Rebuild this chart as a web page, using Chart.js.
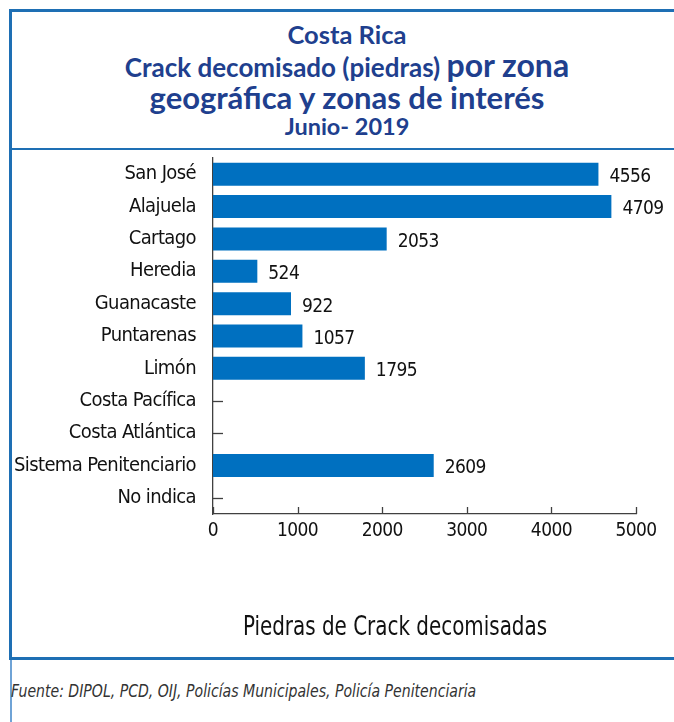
<!DOCTYPE html>
<html>
<head>
<meta charset="utf-8">
<script src="https://cdn.jsdelivr.net/npm/chart.js@4.4.1/dist/chart.umd.min.js"></script>
<style>
  html, body { margin: 0; padding: 0; background: #fff; }
  body { width: 674px; height: 722px; position: relative; overflow: hidden; }
  .line { position: absolute; background: #1e6fb4; }
  #title { position: absolute; left: 10px; top: 18px; width: 674px; text-align: center;
    font-family: Lato, "Open Sans", sans-serif; font-weight: bold; color: #203f8e; }
  #wrap { position: absolute; left: 0; top: 150px; width: 674px; height: 508px; }
  #xtitle { position: absolute; left: 195px; width: 400px; top: 610px; text-align: center;
    font-family: "DejaVu Sans Condensed", sans-serif; font-size: 27px; color: #111;
    transform: scaleX(0.82); }
  #src { position: absolute; left: 11px; top: 681px; white-space: nowrap;
    font-family: "DejaVu Sans Condensed", sans-serif; font-style: italic; font-size: 17px; color: #333;
    transform: scaleX(0.92); transform-origin: left center; }
</style>
</head>
<body>
<div class="line" style="left:9px;top:9px;width:665px;height:3px;"></div>
<div class="line" style="left:9px;top:9px;width:3px;height:650px;"></div>
<div class="line" style="left:9px;top:148px;width:665px;height:2px;"></div>
<div class="line" style="left:9px;top:657px;width:665px;height:3px;"></div>
<div class="line" style="left:10px;top:660px;width:2px;height:62px;background:#6fa3d6;"></div>

<div id="title">
  <div style="font-size:25.5px;line-height:32px;">Costa Rica</div>
  <div style="font-size:26px;line-height:30px;">Crack decomisado (piedras) <span style="font-size:32px;">por zona</span></div>
  <div style="font-size:31px;line-height:31px;">geográfica y zonas de interés</div>
  <div style="font-size:23.5px;line-height:26px;">Junio- 2019</div>
</div>

<div id="wrap"><canvas id="chart" width="674" height="508"></canvas></div>
<div id="xtitle">Piedras de Crack decomisadas</div>
<div id="src">Fuente: DIPOL, PCD, OIJ, Policías Municipales, Policía Penitenciaria</div>

<script>
const zonas = [
  "San José", "Alajuela", "Cartago", "Heredia", "Guanacaste", "Puntarenas",
  "Limón", "Costa Pacífica", "Costa Atlántica", "Sistema Penitenciario", "No indica"
];
const piedras = [4556, 4709, 2053, 524, 922, 1057, 1795, null, null, 2609, null];
const xTicks = [0, 1000, 2000, 3000, 4000, 5000];

const cond = "'DejaVu Sans Condensed', sans-serif";
const axisColor = "#404040";

// marcas de los ejes hacia adentro + etiquetas de valor
const extras = {
  id: "extras",
  beforeUpdate(chart) {
    chart.ctx.letterSpacing = "-0.6px";
  },
  beforeDraw(chart) {
    chart.ctx.letterSpacing = "-0.6px";
  },
  beforeDatasetsDraw(chart) {
    const { ctx, chartArea, scales } = chart;
    ctx.save();
    ctx.strokeStyle = axisColor;
    ctx.lineWidth = 1.3;
    zonas.forEach((z, i) => {
      const y = Math.round(scales.y.getPixelForValue(i)) + 0.5;
      ctx.beginPath();
      ctx.moveTo(chartArea.left, y);
      ctx.lineTo(chartArea.left + 10, y);
      ctx.stroke();
    });
    xTicks.forEach((v) => {
      const x = Math.round(scales.x.getPixelForValue(v)) + 0.5;
      ctx.beginPath();
      ctx.moveTo(x, chartArea.bottom);
      ctx.lineTo(x, chartArea.bottom - 7);
      ctx.stroke();
    });
    ctx.restore();
  },
  afterDatasetsDraw(chart) {
    const { ctx } = chart;
    const meta = chart.getDatasetMeta(0);
    ctx.save();
    ctx.font = "19px " + cond;
    ctx.fillStyle = "#111";
    ctx.textAlign = "left";
    ctx.textBaseline = "middle";
    meta.data.forEach((bar, i) => {
      if (piedras[i] == null) return;
      ctx.fillText(String(piedras[i]), bar.x + 11, bar.y + 3);
    });
    ctx.restore();
  }
};

new Chart(document.getElementById("chart"), {
  type: "bar",
  data: {
    labels: zonas,
    datasets: [{
      data: piedras,
      backgroundColor: "#0070c0",
      borderWidth: 0,
      barPercentage: 0.71,
      categoryPercentage: 1
    }]
  },
  options: {
    indexAxis: "y",
    responsive: false,
    animation: false,
    layout: { padding: { top: 8, right: 38, left: 0, bottom: 0 } },
    plugins: { legend: { display: false }, tooltip: { enabled: false } },
    scales: {
      x: {
        min: 0,
        max: 5000,
        afterBuildTicks: (s) => { s.ticks = xTicks.map((v) => ({ value: v })); },
        afterFit: (s) => { s.height = 144; s.paddingLeft = 0; s.paddingRight = 0; },
        grid: { display: false, drawTicks: false },
        border: { display: true, color: axisColor, width: 1.3 },
        ticks: {
          color: "#111", padding: 6, font: { family: cond, size: 19 },
          callback: (v) => String(v)
        }
      },
      y: {
        afterFit: (s) => { s.width = 213; s.paddingTop = 0; s.paddingBottom = 0; },
        grid: { display: false, drawTicks: false },
        border: { display: true, color: axisColor, width: 1.3 },
        ticks: { color: "#111", padding: 17, autoSkip: false, font: { family: cond, size: 20 } }
      }
    }
  },
  plugins: [extras]
});
</script>
</body>
</html>
